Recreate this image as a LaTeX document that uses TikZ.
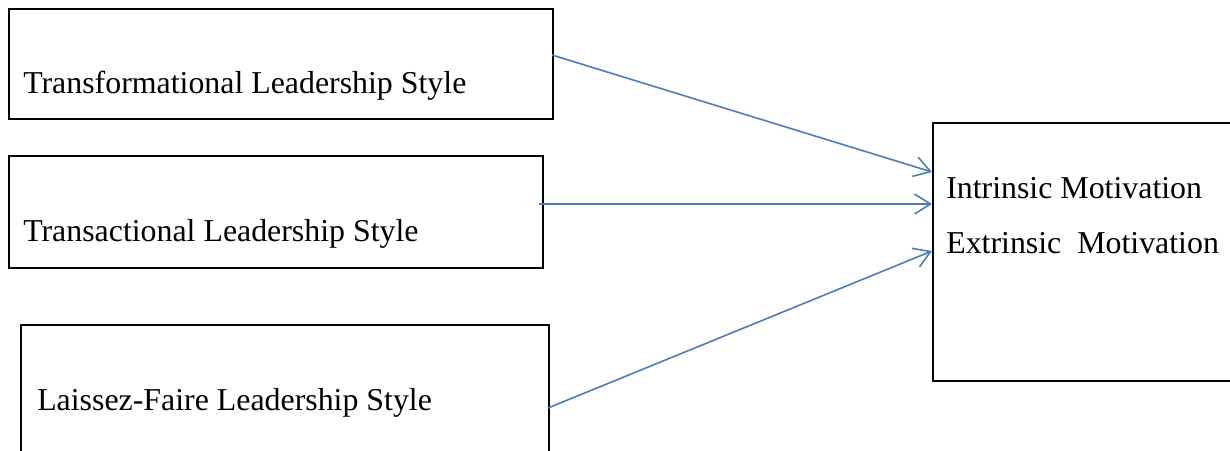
\documentclass[tikz,border=0pt]{standalone}
\usepackage{fontspec}
\setmainfont{Liberation Serif}
\usetikzlibrary{arrows.meta}
\definecolor{arrowblue}{RGB}{74,126,187}
\tikzset{
    stylebox/.style={draw, line width=1.5pt, rectangle, inner sep=0pt, anchor=north west},
    boxtext/.style={anchor=base west, inner sep=0pt, font=\fontsize{23.9}{28}\selectfont},
    linkarrow/.style={draw=arrowblue, line width=1.2pt, -{Straight Barb[length=12pt,width=15pt,line width=1.2pt]}}
}

\begin{document}
\begin{tikzpicture}[x=0.75pt,y=0.75pt,yscale=-1,xscale=1]
    \useasboundingbox (0,0) rectangle (1230,450);
    \clip (0,0) rectangle (1230,450);

    % Boxes
    \node [stylebox, minimum width=544*0.75pt, minimum height=110*0.75pt] (transform) at (8,8) {};
    \node [stylebox, minimum width=534*0.75pt, minimum height=112*0.75pt] (transact) at (8,155) {};
    \node [stylebox, minimum width=528*0.75pt, minimum height=150*0.75pt] (laissez) at (20,324) {};
    \node [stylebox, minimum width=320*0.75pt, minimum height=258*0.75pt] (motiv) at (932,122) {};

    % Text Node
    \node [boxtext] (transformtext) at (23,93) {Transformational Leadership Style};
    % Text Node
    \node [boxtext] (transacttext) at (23,241) {Transactional Leadership Style};
    % Text Node
    \node [boxtext] (laisseztext) at (37,410) {Laissez-Faire Leadership Style};
    % Text Node
    \node [boxtext] (intrinsic) at (946,198) {Intrinsic Motivation};
    % Text Node
    \node [boxtext] (extrinsic) at (946,253) {Extrinsic\ \ Motivation};

    % Arrows
    \coordinate (in1) at (932,172);
    \coordinate (in2) at (932,204);
    \coordinate (in3) at (932,251);
    \coordinate (out1) at (552,55);
    \coordinate (out2) at (539,204);
    \coordinate (out3) at (548,408);
    \draw [linkarrow] (out1) -- (in1);
    \draw [linkarrow] (out2) -- (in2);
    \draw [linkarrow] (out3) -- (in3);
\end{tikzpicture}
\end{document}
